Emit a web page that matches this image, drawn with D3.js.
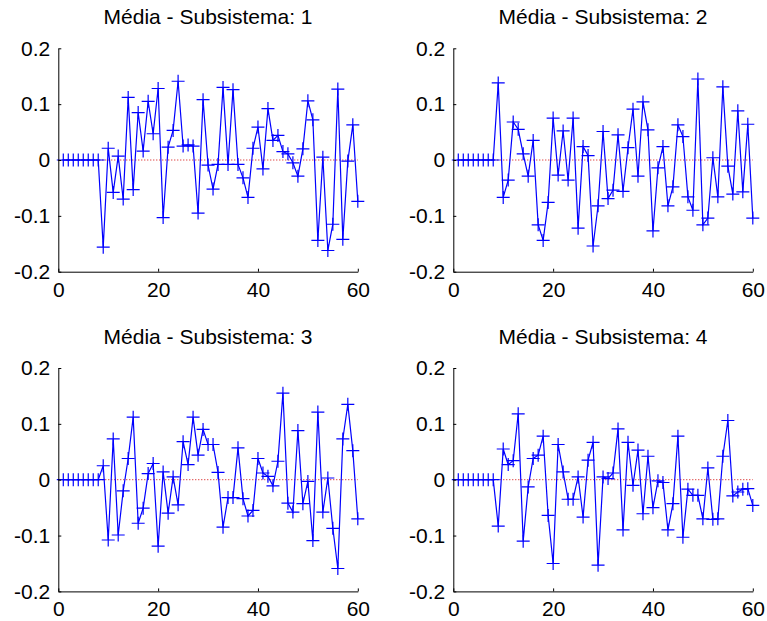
<!DOCTYPE html>
<html>
<head>
<meta charset="utf-8">
<script src="https://cdn.jsdelivr.net/npm/d3@7/dist/d3.min.js"></script>
<style>
  html, body { margin: 0; padding: 0; background: #fff; }
  svg { display: block; }
  text { font-family: "Liberation Sans", Arial, sans-serif; fill: #000; }
</style>
</head>
<body>
<svg id="fig" width="767" height="621"></svg>
<script>
// Mean per subsystem over 60 iterations (first 8 iterations are zero)
const titles = ["Média - Subsistema: 1", "Média - Subsistema: 2",
                "Média - Subsistema: 3", "Média - Subsistema: 4"];

const media1 = [0, 0, 0, 0, 0, 0, 0, 0,
  -0.156, 0.021, -0.058, 0.007, -0.070, 0.112, -0.053, 0.085, 0.016, 0.105,
  0.047, 0.128, -0.103, 0.023, 0.053, 0.141, 0.025, 0.027, 0.025, -0.095,
  0.108, -0.009, -0.052, -0.008, 0.130, -0.008, 0.126, -0.008, -0.032, -0.067,
  0.021, 0.059, -0.016, 0.092, 0.035, 0.044, 0.015, 0.011, -0.005, -0.029,
  0.020, 0.106, 0.072, -0.144, 0.005, -0.162, -0.115, 0.127, -0.142, -0.002,
  0.063, -0.074];

const media2 = [0, 0, 0, 0, 0, 0, 0, 0,
  0.138, -0.067, -0.036, 0.068, 0.055, 0.011, -0.029, 0.035, -0.116, -0.144,
  -0.076, 0.075, -0.027, 0.052, -0.036, 0.075, -0.122, 0.024, 0.008, -0.154,
  -0.082, 0.051, -0.069, -0.054, 0.045, -0.056, 0.022, 0.091, -0.029, 0.104,
  0.054, -0.127, -0.014, 0.024, -0.082, -0.048, 0.063, 0.042, -0.066, -0.090,
  0.145, -0.116, -0.104, 0.004, -0.066, 0.131, -0.011, -0.061, 0.088, -0.057,
  0.064, -0.104];

const media3 = [0, 0, 0, 0, 0, 0, 0, 0,
  0.025, -0.108, 0.073, -0.099, -0.020, 0.038, 0.112, -0.078, -0.051, 0.011,
  0.029, -0.119, 0.014, -0.060, 0.005, -0.045, 0.068, 0.027, 0.112, 0.044,
  0.090, 0.063, 0.063, 0.013, -0.085, -0.032, -0.032, 0.057, -0.034, -0.065,
  -0.055, 0.038, 0.012, 0.006, -0.011, 0.033, 0.155, -0.042, -0.058, 0.088,
  -0.043, -0.003, -0.109, 0.121, -0.058, 0.003, -0.087, -0.159, 0.073, 0.135,
  0.052, -0.070];

const media4 = [0, 0, 0, 0, 0, 0, 0, 0,
  -0.083, 0.055, 0.027, 0.034, 0.118, -0.110, -0.013, 0.038, 0.044, 0.078,
  -0.064, -0.150, 0.063, 0.014, -0.035, -0.035, 0.005, -0.067, 0.035, 0.067,
  -0.153, 0.005, 0.002, 0.012, 0.091, -0.090, 0.067, -0.010, 0.053, -0.061,
  0.042, -0.050, -0.002, -0.005, -0.090, -0.043, 0.078, -0.103, -0.017, -0.028,
  -0.028, -0.070, 0.021, -0.071, -0.070, 0.042, 0.106, -0.029, -0.022, -0.017,
  -0.016, -0.046];

const series = [media1, media2, media3, media4];

const xTicks = [0, 20, 40, 60];
const xTickLabels = ["0", "20", "40", "60"];
const yTicks = [-0.2, -0.1, 0, 0.1, 0.2];
const yTickLabels = ["-0.2", "-0.1", "0", "0.1", "0.2"];
const xDomain = [0, 60];
const yDomain = [-0.2, 0.2];

// subplot placement (2 x 2 grid)
const axW = 299.5, axH = 223.4;
const lefts = [58.3, 453.3];
const tops = [48.3, 368];

const svg = d3.select("#fig");

series.forEach((vals, i) => {
  const left = lefts[i % 2], top = tops[Math.floor(i / 2)];
  const g = svg.append("g").attr("transform", `translate(${left},${top})`);

  const x = d3.scaleLinear().domain(xDomain).range([0, axW]);
  const y = d3.scaleLinear().domain(yDomain).range([axH, 0]);

  const pts = vals.map((v, k) => [k + 1, v]);

  // zero reference (red dotted)
  g.append("path")
    .datum(pts.map(p => [p[0], 0]))
    .attr("fill", "none")
    .attr("stroke", "#d00000")
    .attr("stroke-width", 1)
    .attr("stroke-dasharray", "1,2")
    .attr("d", d3.line().x(d => x(d[0])).y(d => y(d[1])));

  // series line
  g.append("path")
    .datum(pts)
    .attr("fill", "none")
    .attr("stroke", "#0000ff")
    .attr("stroke-width", 1.2)
    .attr("d", d3.line().x(d => x(d[0])).y(d => y(d[1])));

  // '+' markers
  const m = 6.5;
  g.append("g").selectAll("path.mk").data(pts).join("path")
    .attr("class", "mk")
    .attr("fill", "none")
    .attr("stroke", "#0000ff")
    .attr("stroke-width", 1.2)
    .attr("d", d => {
      const cx = x(d[0]), cy = y(d[1]);
      return `M${cx - m},${cy}H${cx + m}M${cx},${cy - m}V${cy + m}`;
    });

  // axes: left and bottom only, ticks pointing inward
  const ax = g.append("g").attr("transform", `translate(0,${axH})`)
    .call(d3.axisBottom(x).tickValues(xTicks)
      .tickFormat((d, j) => xTickLabels[j])
      .tickSizeInner(-3).tickSizeOuter(0).tickPadding(10));
  const ay = g.append("g")
    .call(d3.axisLeft(y).tickValues(yTicks)
      .tickFormat((d, j) => yTickLabels[j])
      .tickSizeInner(-3).tickSizeOuter(0).tickPadding(8));

  [ax, ay].forEach(a => {
    a.select(".domain").attr("stroke", "#000").attr("stroke-width", 1);
    a.selectAll(".tick line").attr("stroke", "#000");
    a.selectAll(".tick text").attr("font-size", 21)
      .attr("font-family", "'Liberation Sans', Arial, sans-serif")
      .attr("fill", "#000");
  });
  ax.selectAll(".tick text").attr("dy", "0.71em");

  g.append("text")
    .attr("x", axW / 2)
    .attr("y", -24)
    .attr("text-anchor", "middle")
    .attr("font-size", 21)
    .text(titles[i]);
});
</script>
</body>
</html>
